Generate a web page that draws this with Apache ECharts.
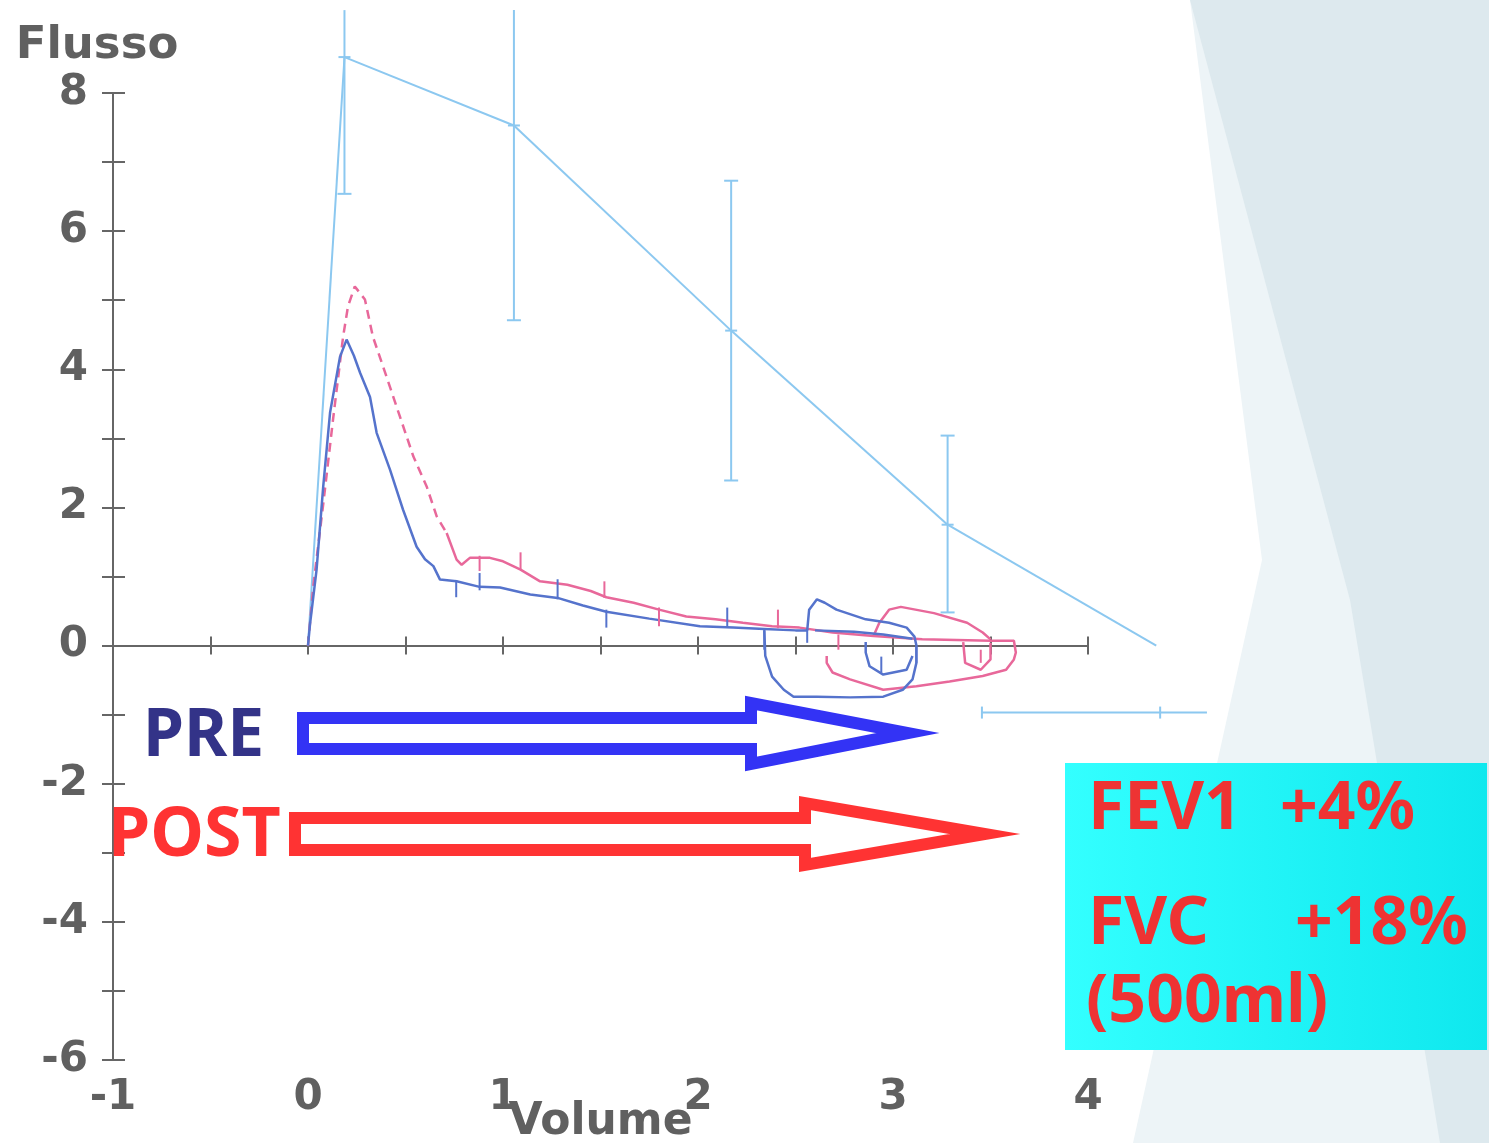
<!DOCTYPE html>
<html><head><meta charset="utf-8">
<script src="https://cdn.jsdelivr.net/npm/echarts@6/dist/echarts.min.js"></script>
<style>html,body{margin:0;padding:0;background:#fff}#c{width:1489px;height:1143px}</style>
</head><body><div id="c"></div><script>
// ---- axis ticks ----
const volTicks = [-1, 0, 1, 2, 3, 4];
const flowTicks = [-6, -4, -2, 0, 2, 4, 6, 8];

// ---- predicted (reference) curve with error bars ----
const predVol  = [0, 0.187, 1.056, 2.17, 3.28, 4.35];
const predFlow = [0, 8.52, 7.53, 4.56, 1.75, 0.0];
const errVol   = [0.187, 1.056, 2.17, 3.28];
const errLow   = [6.54, 4.71, 2.39, 0.48];
const errHigh  = [9.2, 9.2, 6.73, 3.04];
const errCapHigh = [0, 0, 1, 1];
const fvcBarFlow = -0.97;
const fvcBarVol  = [3.456, 4.37, 4.61];   // start, predicted FVC, end

// ---- PRE (before bronchodilator) ----
const preExp = [[0,0],[0.01,0.3],[0.044,1.1],[0.078,2.3],[0.113,3.37],[0.164,4.18],[0.198,4.43],[0.235,4.2],
  [0.267,3.95],[0.318,3.6],[0.352,3.08],[0.42,2.55],[0.487,1.97],[0.557,1.43],[0.6,1.25],[0.643,1.15],
  [0.677,0.955],[0.762,0.93],[0.88,0.85],[0.985,0.84],[1.14,0.74],[1.28,0.69],[1.41,0.58],[1.53,0.49],
  [1.75,0.39],[2.01,0.28],[2.18,0.26],[2.34,0.24],[2.5,0.22],[2.56,0.22],[2.57,0.52],[2.61,0.67],
  [2.65,0.62],[2.71,0.52],[2.86,0.38],[2.98,0.33],[3.07,0.26],[3.11,0.13],[3.12,0.0],[3.12,-0.25],
  [3.1,-0.49],[3.05,-0.64],[2.95,-0.74],[2.78,-0.75],[2.61,-0.74],[2.49,-0.74],[2.44,-0.64],
  [2.38,-0.45],[2.345,-0.15],[2.34,0.22]];
const preFlat  = [[2.6,0.22],[2.8,0.2],[2.95,0.16],[3.1,0.1]];
const preInner = [[2.86,0.05],[2.86,-0.1],[2.88,-0.3],[2.95,-0.42],[3.07,-0.35],[3.1,-0.15]];
const preTicks = [[0.76,0.95,0.7],[0.88,1.05,0.8],[1.28,0.96,0.67],[1.53,0.52,0.26],[2.15,0.55,0.26],
  [2.34,0.24,-0.06],[2.56,0.24,0.04],[2.94,-0.16,-0.39],[3.12,-0.02,-0.25]];

// ---- POST (after bronchodilator) ----
const postDash = [[0,0],[0.027,0.86],[0.079,2.07],[0.13,3.31],[0.18,4.47],[0.205,4.91],[0.24,5.2],
  [0.292,5.01],[0.333,4.47],[0.403,3.89],[0.472,3.31],[0.54,2.74],[0.609,2.3],[0.66,1.87],[0.711,1.63]];
const postSolid = [[0.711,1.63],[0.762,1.245],[0.788,1.17],[0.83,1.27],[0.933,1.27],[1.0,1.22],[1.09,1.1],
  [1.19,0.93],[1.33,0.88],[1.45,0.79],[1.53,0.7],[1.67,0.62],[1.8,0.52],[1.94,0.42],[2.09,0.38],
  [2.23,0.33],[2.38,0.28],[2.52,0.26],[2.69,0.19],[2.9,0.14],[3.15,0.09],[3.5,0.07],[3.62,0.07],
  [3.63,-0.1],[3.62,-0.2],[3.58,-0.35],[3.46,-0.44],[3.29,-0.52],[3.12,-0.59],[2.95,-0.64],
  [2.78,-0.49],[2.69,-0.39],[2.66,-0.25],[2.66,-0.15]];
const postBump  = [[2.9,0.14],[2.93,0.33],[2.98,0.52],[3.04,0.56],[3.21,0.47],[3.38,0.33],[3.46,0.19],[3.5,0.09]];
const postInner = [[3.36,0.05],[3.37,-0.25],[3.45,-0.35],[3.5,-0.2],[3.5,0.04]];
const postTicks = [[0.88,1.3,1.08],[1.09,1.35,1.1],[1.52,0.93,0.69],[1.8,0.55,0.28],[2.41,0.52,0.25],
  [2.72,0.16,-0.06],[3.45,-0.06,-0.25]];

// ---- annotation texts ----
const preLabel = 'PRE', postLabel = 'POST';
const boxLines = [['FEV1', '+4%'], ['FVC', '+18%'], ['(500ml)', '']];

const C_PRED = '#8cc8f0', C_PRE = '#5573cc', C_POST = '#e8689a', C_AX = '#666666';
const axFont = 'DejaVu Sans';
const boxFont = '"Comic Sans MS", "Noto Sans", sans-serif';

function lineSeries(data, color, dashed) {
  return { type: 'line', data: data, symbol: 'none', clip: false, silent: true, z: 3,
    lineStyle: { color: color, width: 2.5, type: dashed ? [9, 6] : 'solid' } };
}
function tickSeries(rows, color) {
  return { type: 'custom', data: rows, clip: false, silent: true, z: 4,
    renderItem: (p, api) => {
      const a = api.coord([api.value(0), api.value(1)]), b = api.coord([api.value(0), api.value(2)]);
      return { type: 'line', shape: { x1: a[0], y1: a[1], x2: b[0], y2: b[1] }, style: { stroke: color, lineWidth: 2 } };
    } };
}

const predSegs = predVol.slice(1).map((v, i) => [predVol[i], predFlow[i], v, predFlow[i + 1]]);
const errRows = errVol.map((v, i) => [v, errLow[i], errHigh[i], predFlow[i + 1], errCapHigh[i]]);

const chart = echarts.init(document.getElementById('c'));
const labelStyle = { fontFamily: axFont, fontSize: 42, fontWeight: 'bold', color: '#606060' };
const baseX = { type: 'value', min: -1, max: 4, splitLine: { show: false } };
const baseY = { type: 'value', min: -6, max: 8, interval: 1, splitLine: { show: false } };

chart.setOption({
  backgroundColor: '#ffffff',
  animation: false,
  grid: { left: 113, right: 401, top: 93, bottom: 83, containLabel: false, outerBoundsMode: 'none' },
  xAxis: [
    Object.assign({}, baseX, { interval: 1, position: 'bottom',
      axisLine: { show: false, onZero: false }, axisTick: { show: false },
      axisLabel: Object.assign({ margin: 17, formatter: v => volTicks.includes(v) ? String(v) : '' }, labelStyle),
      name: 'Volume', nameLocation: 'middle', nameGap: 41, nameMoveOverlap: false,
      nameTextStyle: Object.assign({}, labelStyle, { fontSize: 44 }) }),
    Object.assign({}, baseX, { interval: 0.5, position: 'bottom',
      axisLine: { show: true, onZero: true, onZeroAxisIndex: 0, lineStyle: { color: C_AX, width: 2 } },
      axisTick: { show: true, length: 9, lineStyle: { color: C_AX, width: 2 } }, axisLabel: { show: false } }),
    Object.assign({}, baseX, { interval: 0.5, position: 'bottom',
      axisLine: { show: false, onZero: true, onZeroAxisIndex: 0 },
      axisTick: { show: true, inside: true, length: 9, lineStyle: { color: C_AX, width: 2 } }, axisLabel: { show: false } })
  ],
  yAxis: [
    Object.assign({}, baseY, { position: 'left',
      axisLine: { show: true, onZero: false, lineStyle: { color: C_AX, width: 2 } },
      axisTick: { show: true, length: 11, lineStyle: { color: C_AX, width: 2 } },
      axisLabel: Object.assign({ margin: 25, formatter: v => flowTicks.includes(v) ? String(v) : '' }, labelStyle),
      name: 'Flusso', nameLocation: 'end', nameGap: 24,
      nameTextStyle: Object.assign({}, labelStyle, { fontSize: 45, align: 'center', padding: [0, 32, 0, 0] }) }),
    Object.assign({}, baseY, { position: 'left',
      axisLine: { show: false, onZero: false },
      axisTick: { show: true, inside: true, length: 12, lineStyle: { color: C_AX, width: 2 } }, axisLabel: { show: false } })
  ],
  series: [
    { type: 'custom', data: predSegs, clip: false, silent: true, z: 3,
      renderItem: (p, api) => {
        const a = api.coord([api.value(0), api.value(1)]), b = api.coord([api.value(2), api.value(3)]);
        return { type: 'line', shape: { x1: a[0], y1: a[1], x2: b[0], y2: b[1] }, style: { stroke: C_PRED, lineWidth: 2 } };
      } },
    { type: 'custom', data: errRows, clip: false, silent: true, z: 3,
      renderItem: (p, api) => {
        const x = api.value(0);
        const lo = api.coord([x, api.value(1)]), hi = api.coord([x, api.value(2)]), mid = api.coord([x, api.value(3)]);
        const st = { stroke: C_PRED, lineWidth: 2 };
        const ch = [
          { type: 'line', shape: { x1: lo[0], y1: lo[1], x2: hi[0], y2: hi[1] }, style: st },
          { type: 'line', shape: { x1: lo[0] - 7, y1: lo[1], x2: lo[0] + 7, y2: lo[1] }, style: st },
          { type: 'line', shape: { x1: mid[0] - 6, y1: mid[1], x2: mid[0] + 6, y2: mid[1] }, style: st }
        ];
        if (api.value(4)) ch.push({ type: 'line', shape: { x1: hi[0] - 7, y1: hi[1], x2: hi[0] + 7, y2: hi[1] }, style: st });
        return { type: 'group', children: ch };
      } },
    { type: 'custom', data: [[fvcBarFlow].concat(fvcBarVol)], clip: false, silent: true, z: 3,
      renderItem: (p, api) => {
        const y = api.value(0);
        const a = api.coord([api.value(1), y]), m = api.coord([api.value(2), y]), b = api.coord([api.value(3), y]);
        const st = { stroke: C_PRED, lineWidth: 2 };
        return { type: 'group', children: [
          { type: 'line', shape: { x1: a[0], y1: a[1], x2: b[0], y2: b[1] }, style: st },
          { type: 'line', shape: { x1: a[0], y1: a[1] - 6, x2: a[0], y2: a[1] + 6 }, style: st },
          { type: 'line', shape: { x1: m[0], y1: m[1] - 6, x2: m[0], y2: m[1] + 6 }, style: st }
        ] };
      } },
    lineSeries(postDash, C_POST, true),
    lineSeries(postSolid, C_POST, false),
    lineSeries(postBump, C_POST, false),
    lineSeries(postInner, C_POST, false),
    tickSeries(postTicks, C_POST),
    lineSeries(preExp, C_PRE, false),
    lineSeries(preFlat, C_PRE, false),
    lineSeries(preInner, C_PRE, false),
    tickSeries(preTicks, C_PRE)
  ],
  graphic: [
    { type: 'polygon', z: -20, silent: true, shape: { points: [[1190,0],[1489,0],[1489,1143],[1133,1143],[1262,560]] }, style: { fill: '#edf4f7' } },
    { type: 'polygon', z: -19, silent: true, shape: { points: [[1190,0],[1489,0],[1489,1143],[1440,1143],[1350,600]] }, style: { fill: '#dde9ee' } },
    { type: 'polygon', z: 50, silent: true,
      shape: { points: [[303,718],[751,718],[751,703],[908,733],[751,764],[751,749],[303,749]] },
      style: { fill: '#ffffff', stroke: '#3333f5', lineWidth: 12, lineJoin: 'miter' } },
    { type: 'polygon', z: 50, silent: true,
      shape: { points: [[295,818],[805,818],[805,803],[985,834],[805,865],[805,850],[295,850]] },
      style: { fill: '#ffffff', stroke: '#ff3333', lineWidth: 12, lineJoin: 'miter' } },
    { type: 'text', z: 51, silent: true, x: 143, y: 737,
      style: { text: preLabel, fill: '#333388', font: 'bold 66px ' + boxFont, verticalAlign: 'middle', align: 'left' } },
    { type: 'text', z: 51, silent: true, x: 108, y: 837,
      style: { text: postLabel, fill: '#ff3333', font: 'bold 68px ' + boxFont, verticalAlign: 'middle', align: 'left' } },
    { type: 'rect', z: 52, silent: true, shape: { x: 1065, y: 763, width: 422, height: 287 },
      style: { fill: { type: 'linear', x: 0, y: 0, x2: 1, y2: 0, colorStops: [{ offset: 0, color: '#33ffff' }, { offset: 1, color: '#0fe8ee' }] } } },
    { type: 'text', z: 53, silent: true, x: 1088, y: 810, style: { text: boxLines[0][0], fill: '#ee3333', font: 'bold 66px ' + boxFont, verticalAlign: 'middle' } },
    { type: 'text', z: 53, silent: true, x: 1280, y: 810, style: { text: boxLines[0][1], fill: '#ee3333', font: 'bold 66px ' + boxFont, verticalAlign: 'middle' } },
    { type: 'text', z: 53, silent: true, x: 1088, y: 925, style: { text: boxLines[1][0], fill: '#ee3333', font: 'bold 66px ' + boxFont, verticalAlign: 'middle' } },
    { type: 'text', z: 53, silent: true, x: 1295, y: 925, style: { text: boxLines[1][1], fill: '#ee3333', font: 'bold 66px ' + boxFont, verticalAlign: 'middle' } },
    { type: 'text', z: 53, silent: true, x: 1086, y: 1003, style: { text: boxLines[2][0], fill: '#ee3333', font: 'bold 66px ' + boxFont, verticalAlign: 'middle' } }
  ]
});
</script></body></html>
